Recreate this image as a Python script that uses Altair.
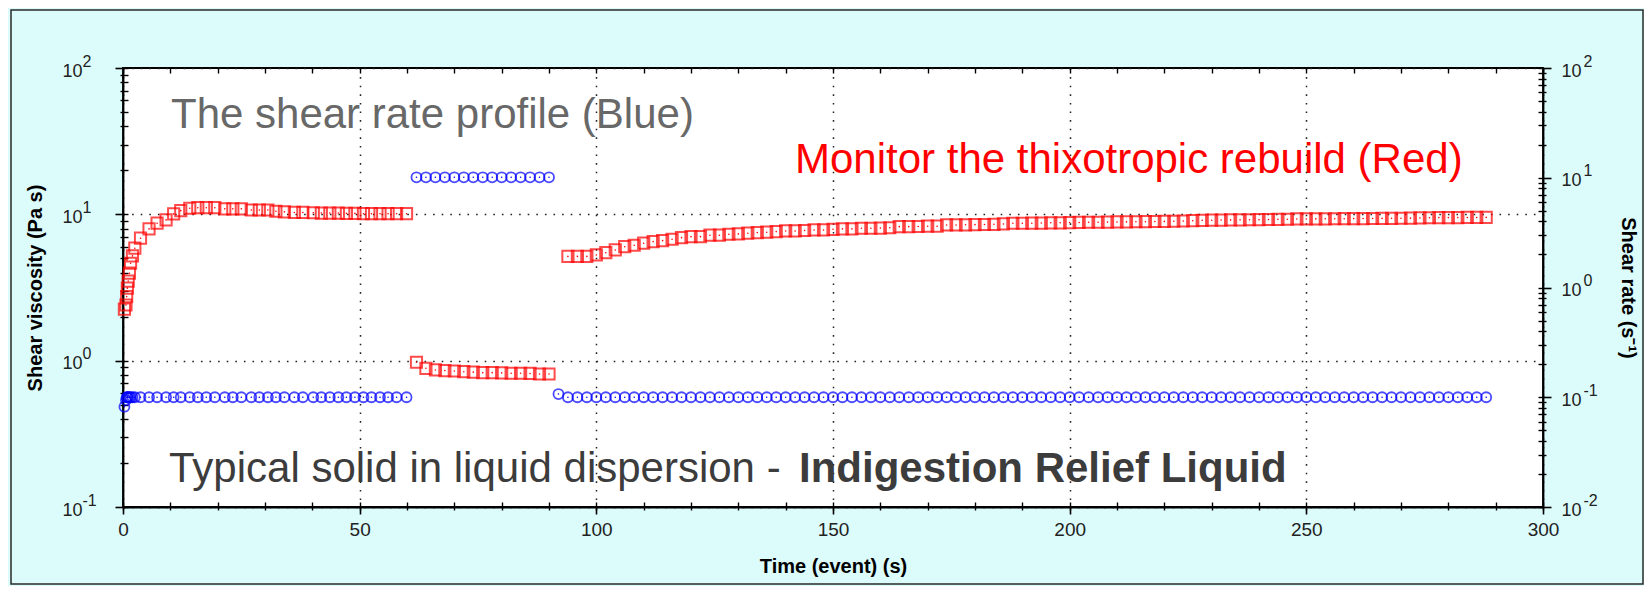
import altair as alt
import pandas as pd

# ---------------- data ----------------
# Segment 1: low shear rest (0-60 s)
t1 = [0.3, 0.63, 0.77, 0.92, 1.1, 1.35, 1.6, 2.0, 2.5, 3.7,
      5.5, 7.2, 9.1, 10.7, 12.2, 14.1, 15.8, 17.6, 19.4, 21.5,
      23.2, 25.0, 27.1, 28.8, 30.6, 32.3, 34.1, 36.2, 38.0, 40.2,
      41.9, 43.7, 45.5, 47.2, 49.0, 50.8, 52.5, 54.3, 56.0, 57.8,
      59.9]
visc1 = [2.25, 2.4, 2.74, 3.13, 3.5, 3.96, 4.63, 5.2, 5.87, 6.87,
         7.95, 8.7, 9.16, 10.07, 10.6, 11.0, 11.1, 11.1, 11.1, 10.9,
         10.9, 10.9, 10.7, 10.7, 10.7, 10.5, 10.4, 10.3, 10.3, 10.25,
         10.2, 10.2, 10.2, 10.15, 10.15, 10.1, 10.1, 10.1, 10.1, 10.1,
         10.1]
rate1 = [0.082, 0.094, 0.1, 0.1, 0.1, 0.1, 0.1, 0.1, 0.1, 0.1,
         0.1, 0.1, 0.1, 0.1, 0.1, 0.1, 0.1, 0.1, 0.1, 0.1,
         0.1, 0.1, 0.1, 0.1, 0.1, 0.1, 0.1, 0.1, 0.1, 0.1,
         0.1, 0.1, 0.1, 0.1, 0.1, 0.1, 0.1, 0.1, 0.1, 0.1,
         0.1]

# Segment 2: high shear (62-90 s)
t2 = [62, 64, 66, 68, 70, 72, 74, 76, 78, 80, 82, 84, 86, 88, 90]
visc2 = [0.975, 0.887, 0.864, 0.855, 0.85, 0.841, 0.835, 0.828, 0.828, 0.825,
         0.82, 0.82, 0.818, 0.811, 0.811]
rate2 = [10.1, 10.1, 10.1, 10.1, 10.1, 10.1, 10.1, 10.1, 10.1, 10.1,
         10.1, 10.1, 10.1, 10.1, 10.1]

# Segment 3: recovery at low shear (92-288 s)
t3_rate = [92, 94, 96, 98, 100, 102, 104, 106, 108, 110,
           112, 114, 116, 118, 120, 122, 124, 126, 128, 130,
           132, 134, 136, 138, 140, 142, 144, 146, 148, 150,
           152, 154, 156, 158, 160, 162, 164, 166, 168, 170,
           172, 174, 176, 178, 180, 182, 184, 186, 188, 190,
           192, 194, 196, 198, 200, 202, 204, 206, 208, 210,
           212, 214, 216, 218, 220, 222, 224, 226, 228, 230,
           232, 234, 236, 238, 240, 242, 244, 246, 248, 250,
           252, 254, 256, 258, 260, 262, 264, 266, 268, 270,
           272, 274, 276, 278, 280, 282, 284, 286, 288]
rate3 = [0.107, 0.1, 0.1, 0.1, 0.1, 0.1, 0.1, 0.1, 0.1, 0.1,
         0.1, 0.1, 0.1, 0.1, 0.1, 0.1, 0.1, 0.1, 0.1, 0.1,
         0.1, 0.1, 0.1, 0.1, 0.1, 0.1, 0.1, 0.1, 0.1, 0.1,
         0.1, 0.1, 0.1, 0.1, 0.1, 0.1, 0.1, 0.1, 0.1, 0.1,
         0.1, 0.1, 0.1, 0.1, 0.1, 0.1, 0.1, 0.1, 0.1, 0.1,
         0.1, 0.1, 0.1, 0.1, 0.1, 0.1, 0.1, 0.1, 0.1, 0.1,
         0.1, 0.1, 0.1, 0.1, 0.1, 0.1, 0.1, 0.1, 0.1, 0.1,
         0.1, 0.1, 0.1, 0.1, 0.1, 0.1, 0.1, 0.1, 0.1, 0.1,
         0.1, 0.1, 0.1, 0.1, 0.1, 0.1, 0.1, 0.1, 0.1, 0.1,
         0.1, 0.1, 0.1, 0.1, 0.1, 0.1, 0.1, 0.1, 0.1]
t3_visc = [94, 96, 98, 100, 102, 104, 106, 108, 110, 112,
           114, 116, 118, 120, 122, 124, 126, 128, 130, 132,
           134, 136, 138, 140, 142, 144, 146, 148, 150, 152,
           154, 156, 158, 160, 162, 164, 166, 168, 170, 172,
           174, 176, 178, 180, 182, 184, 186, 188, 190, 192,
           194, 196, 198, 200, 202, 204, 206, 208, 210, 212,
           214, 216, 218, 220, 222, 224, 226, 228, 230, 232,
           234, 236, 238, 240, 242, 244, 246, 248, 250, 252,
           254, 256, 258, 260, 262, 264, 266, 268, 270, 272,
           274, 276, 278, 280, 282, 284, 286, 288]
visc3 = [5.16, 5.16, 5.16, 5.28, 5.47, 5.71, 6.01, 6.15, 6.35, 6.51,
         6.61, 6.76, 6.93, 7.04, 7.04, 7.2, 7.2, 7.31, 7.35, 7.43,
         7.5, 7.55, 7.62, 7.7, 7.7, 7.75, 7.82, 7.82, 7.9, 7.95,
         7.95, 8.03, 8.03, 8.05, 8.1, 8.24, 8.24, 8.26, 8.3, 8.3,
         8.46, 8.46, 8.48, 8.5, 8.52, 8.55, 8.6, 8.69, 8.69, 8.7,
         8.72, 8.75, 8.75, 8.78, 8.8, 8.83, 8.83, 8.85, 8.87, 8.88,
         8.9, 8.91, 8.93, 8.95, 8.97, 9.0, 9.05, 9.1, 9.12, 9.14,
         9.16, 9.17, 9.18, 9.2, 9.22, 9.24, 9.26, 9.3, 9.3, 9.31,
         9.32, 9.33, 9.34, 9.35, 9.36, 9.37, 9.38, 9.39, 9.4, 9.42,
         9.45, 9.48, 9.5, 9.5, 9.5, 9.52, 9.52, 9.53]

# Axis tick values
x_major = [0, 50, 100, 150, 200, 250, 300]
x_minor = [0, 10, 20, 30, 40, 50, 60, 70, 80, 90, 100, 110, 120, 130, 140, 150,
           160, 170, 180, 190, 200, 210, 220, 230, 240, 250, 260, 270, 280, 290, 300]
left_major = [0.1, 1, 10, 100]
left_minor = [0.2, 0.3, 0.4, 0.5, 0.6, 0.7, 0.8, 0.9,
              2, 3, 4, 5, 6, 7, 8, 9,
              20, 30, 40, 50, 60, 70, 80, 90]
right_major = [0.01, 0.1, 1, 10, 100]
right_minor = [0.02, 0.03, 0.04, 0.05, 0.06, 0.07, 0.08, 0.09,
               0.2, 0.3, 0.4, 0.5, 0.6, 0.7, 0.8, 0.9,
               2, 3, 4, 5, 6, 7, 8, 9,
               20, 30, 40, 50, 60, 70, 80, 90]
left_all = left_major + left_minor
right_all = right_major + right_minor

# Texts
title_x = "Time (event) (s)"
title_left = "Shear viscosity (Pa s)"
title_right = "Shear rate (s\u207b\u00b9)"
note_blue = ["The shear rate profile (Blue)"]
note_red = ["Monitor the thixotropic rebuild (Red)"]
note_bottom_plain = ["Typical solid in liquid dispersion - "]
note_bottom_bold = ["Indigestion Relief Liquid"]

# ---------------- chart ----------------
red_df = pd.DataFrame({"t": t1 + t2 + t3_visc, "visc": visc1 + visc2 + visc3})
blue_df = pd.DataFrame({"t": t1 + t2 + t3_rate, "rate": rate1 + rate2 + rate3})

W, H = 1420, 439
FONT = "Liberation Sans"
xs = alt.Scale(domain=[0, 300], nice=False, zero=False)
yl = alt.Scale(type="log", domain=[0.1, 100], nice=False)
yr = alt.Scale(type="log", domain=[0.01, 100], nice=False)

exp_expr = ("datum.value >= 99 ? '2' : datum.value >= 9 ? '1' : "
            "datum.value >= 0.9 ? '0' : datum.value >= 0.09 ? '-1' : '-2'")

plain = dict(labels=False, domain=False, grid=False, title=None,
             tickColor="black", tickWidth=1.4)
LBL = dict(labelFont=FONT, labelColor="#222222", labelFlush=False)

x_main = alt.Axis(orient="bottom", values=x_major, tickSize=7, tickColor="black", tickWidth=1.6,
                  labelPadding=6, labelFontSize=19, **LBL,
                  title=title_x, titleFont=FONT, titleFontSize=20,
                  titleFontWeight="bold", titleColor="black", titlePadding=17,
                  grid=True, gridColor="#222222", gridDash=[1.6, 7], gridWidth=1.5,
                  domainColor="black", domainWidth=1.8)
x_minor_ax = alt.Axis(orient="bottom", values=x_minor, tickSize=3, **plain)
x_in_ax = alt.Axis(orient="bottom", values=x_minor, offset=-5, tickSize=5, **plain)
x_top_ax = alt.Axis(orient="top", values=x_minor, offset=-5, tickSize=5, **plain)

# left axis: "10" base labels + exponent labels on a second axis
yl_main = alt.Axis(orient="left", values=left_major, tickSize=8, tickColor="black", tickWidth=1.6,
                   labelPadding=33, labelExpr="'10'", labelFontSize=18, labelOffset=3, **LBL,
                   title=title_left, titleFont=FONT,
                   titleFontSize=20, titleFontWeight="bold", titleColor="black", titlePadding=16,
                   grid=True, gridColor="#222222", gridDash=[1.6, 7], gridWidth=1.5,
                   domainColor="black", domainWidth=1.8)
yl_exp = alt.Axis(orient="left", values=left_major, ticks=False, domain=False, grid=False,
                  title=None, labelPadding=41, labelAlign="left", labelExpr=exp_expr,
                  labelFontSize=16, labelOffset=-7, **LBL)
yl_minor_ax = alt.Axis(orient="left", values=left_minor, tickSize=3, **plain)
yl_in_ax = alt.Axis(orient="left", values=left_all, offset=-5, tickSize=5, **plain)

yr_main = alt.Axis(orient="right", values=right_major, tickSize=8, tickColor="black", tickWidth=1.6,
                   labelPadding=10, labelExpr="'10'", labelFontSize=18, labelOffset=3, **LBL,
                   title=title_right, titleFont=FONT,
                   titleFontSize=20, titleFontWeight="bold", titleColor="black", titlePadding=36,
                   titleAngle=90, grid=False, domainColor="black", domainWidth=1.8)
yr_exp = alt.Axis(orient="right", values=right_major, ticks=False, domain=False, grid=False,
                  title=None, labelPadding=40, labelAlign="left", labelExpr=exp_expr,
                  labelFontSize=16, labelOffset=-7, **LBL)
yr_minor_ax = alt.Axis(orient="right", values=right_minor, tickSize=3, **plain)
yr_in_ax = alt.Axis(orient="right", values=right_all, offset=-5, tickSize=5, **plain)

blue = alt.Chart(blue_df).mark_point(shape="circle", size=100, strokeWidth=1.8,
                                     color="#0000ff", filled=False).encode(
    x=alt.X("t:Q", scale=xs, axis=x_top_ax),
    y=alt.Y("rate:Q", scale=yr, axis=yr_main),
)
blue_dot = alt.Chart(blue_df).mark_circle(size=2.5, color="#0000ff", opacity=1).encode(
    x=alt.X("t:Q", scale=xs, axis=None),
    y=alt.Y("rate:Q", scale=yr, axis=None),
)
red = alt.Chart(red_df).mark_point(shape="square", size=125, strokeWidth=2.0,
                                   color="#ff0000", filled=False).encode(
    x=alt.X("t:Q", scale=xs, axis=x_main),
    y=alt.Y("visc:Q", scale=yl, axis=yl_main),
)
red_dot = alt.Chart(red_df).mark_circle(size=2.5, color="#ff0000", opacity=1).encode(
    x=alt.X("t:Q", scale=xs, axis=None),
    y=alt.Y("visc:Q", scale=yl, axis=None),
)


def ghost(df, field, yscale, xaxis, yaxis):
    return alt.Chart(df).mark_point(opacity=0).encode(
        x=alt.X("t:Q", scale=xs, axis=xaxis),
        y=alt.Y(f"{field}:Q", scale=yscale, axis=yaxis),
    )


ghosts = [
    ghost(red_df, "visc", yl, x_minor_ax, yl_minor_ax),
    ghost(red_df, "visc", yl, x_in_ax, yl_in_ax),
    ghost(red_df, "visc", yl, None, yl_exp),
    ghost(blue_df, "rate", yr, None, yr_minor_ax),
    ghost(blue_df, "rate", yr, None, yr_in_ax),
    ghost(blue_df, "rate", yr, None, yr_exp),
]


def note(lines, color, bold, px, py):
    return alt.Chart(pd.DataFrame({"txt": lines})).mark_text(
        font=FONT, fontSize=42, color=color, align="left", baseline="alphabetic",
        fontWeight="bold" if bold else "normal",
    ).encode(x=alt.value(px), y=alt.value(py), text="txt:N")


t_blue = note(note_blue, "#686868", False, 48, 60)
t_red = note(note_red, "#ff0000", False, 672, 105)
t_bot1 = note(note_bottom_plain, "#3c3c3c", False, 46, 414)
t_bot2 = note(note_bottom_bold, "#3c3c3c", True, 676, 414)

# outer frame of the figure (pixel positions relative to the plot area)
frame = alt.Chart(pd.DataFrame({"k": [0]})).mark_rect(
    fill=None, stroke="#2a2a2a", strokeWidth=1.5
).encode(x=alt.value(-112), x2=alt.value(1520), y=alt.value(-58), y2=alt.value(516))

chart = alt.layer(
    *ghosts,
    blue, blue_dot, red, red_dot,
    t_blue, t_red, t_bot1, t_bot2, frame,
).resolve_scale(y="independent").resolve_axis(x="independent", y="independent").properties(
    width=W, height=H,
    autosize=alt.AutoSizeParams(type="none"),
    padding={"left": 115, "top": 60, "right": 101, "bottom": 79},
).configure(background="#dcfbfb").configure_view(
    stroke="black", strokeWidth=1.8, fill="white"
)

chart.save("out.html", embed_options={"renderer": "svg", "actions": False})
